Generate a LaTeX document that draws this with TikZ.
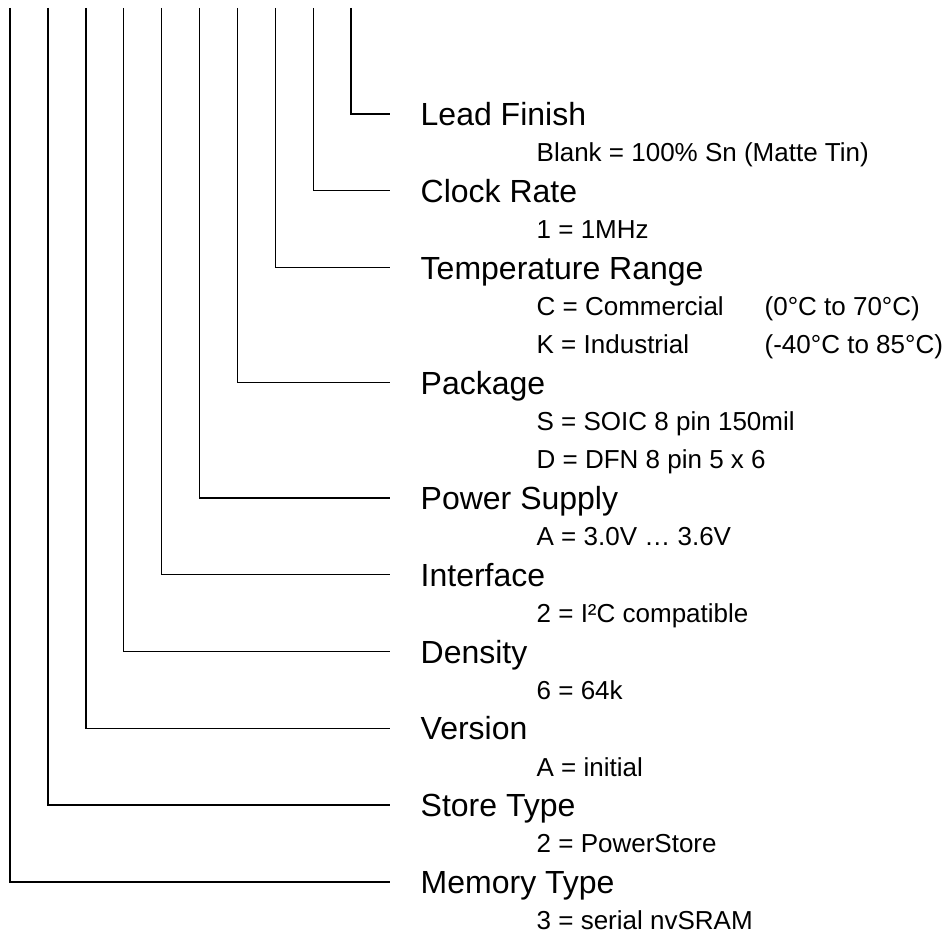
\documentclass[tikz,border=0pt]{standalone}
\usepackage{fontspec}
\setmainfont{Liberation Sans}

\begin{document}
\begin{tikzpicture}[x=0.5pt,y=-0.5pt,line width=0.7pt,
  head/.style={anchor=west,inner sep=0pt,font=\fontsize{16}{19}\selectfont,text height=11.46pt,text depth=0pt},
  opt/.style={anchor=west,inner sep=0pt,font=\fontsize{13}{15.6}\selectfont,text height=9.3pt,text depth=0pt}]
\useasboundingbox (0,0) rectangle (950,935);
% field names
\node[head] (lead) at (420,114) {Lead Finish};
\node[opt] (lead-a) at (536,152.4) {Blank = 100\% Sn (Matte Tin)};
\node[head] (clk) at (420,190.8) {Clock Rate};
\node[opt] (clk-a) at (536,229.2) {1 = 1MHz};
\node[head] (temp) at (420,267.6) {Temperature Range};
\node[opt] (temp-a) at (536,306) {\makebox[114pt][l]{C = Commercial}(0°C to 70°C)};
\node[opt] (temp-b) at (536,344.4) {\makebox[114pt][l]{K = Industrial}(-40°C to 85°C)};
\node[head] (pkg) at (420,382.8) {Package};
\node[opt] (pkg-a) at (536,421.2) {S = SOIC 8 pin 150mil};
\node[opt] (pkg-b) at (536,459.6) {D = DFN 8 pin 5 x 6};
\node[head] (pwr) at (420,498) {Power Supply};
\node[opt] (pwr-a) at (536,536.4) {A = 3.0V … 3.6V};
\node[head] (intf) at (420,574.8) {Interface};
\node[opt] (intf-a) at (536,613.2) {2 = I²C compatible};
\node[head] (dens) at (420,651.6) {Density};
\node[opt] (dens-a) at (536,690) {6 = 64k};
\node[head] (ver) at (420,728.4) {Version};
\node[opt] (ver-a) at (536,766.8) {A = initial};
\node[head] (store) at (420,805.2) {Store Type};
\node[opt] (store-a) at (536,843.6) {2 = PowerStore};
\node[head] (mem) at (420,882) {Memory Type};
\node[opt] (mem-a) at (536,920.4) {3 = serial nvSRAM};
% leader lines
\foreach \n [count=\i from 0] in {mem,store,ver,dens,intf,pwr,pkg,temp,clk,lead} {
  \coordinate (\n-top) at (10+37.9*\i,8);
  \draw (\n-top) |- ([xshift=-15pt]\n.west);
}
\end{tikzpicture}
\end{document}
